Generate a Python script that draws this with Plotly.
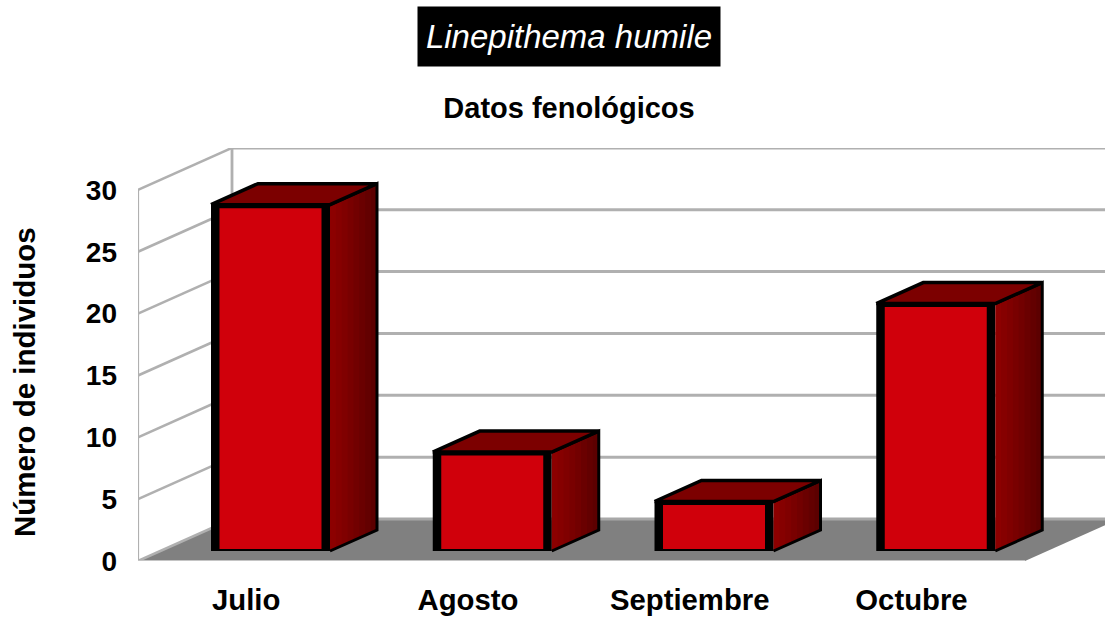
import plotly.graph_objects as go

months = ["Julio", "Agosto", "Septiembre", "Octubre"]
individuals = [28, 8, 4, 20]
y_ticks = [0, 5, 10, 15, 20, 25, 30]

# pseudo-3D geometry in axis units
PX_X, PX_Y = 221.75, 12.37
WALL_DX, WALL_DY = 94 / PX_X, 42 / PX_Y
BAR_DX, BAR_DY = 47 / PX_X, 21 / PX_Y
BAR_W, INNER_W = 119 / PX_X, 102 / PX_X
BAR_BASE = 10 / PX_Y
BAR_SHIFT = 0.0975
LABEL_SHIFT = -0.012
INSET_B, INSET_T = 2 / PX_Y, 3.5 / PX_Y
YMAX, XMAX = 30, 4
X_END = (1105 - 138) / PX_X
Y_END = (561 - 148) / PX_Y
GRID = "#b0b0b0"
SIDE_SHADES = ["#8c0000", "#860000", "#800000", "#790000", "#720000", "#6a0000", "#630000", "#5c0000"]

fig = go.Figure()


def poly(xs, ys, fill=None, line=None, width=0, axes=("x", "y")):
    fig.add_trace(go.Scatter(
        x=xs, y=ys, mode="lines", xaxis=axes[0], yaxis=axes[1],
        fill="toself" if fill else "none", fillcolor=fill,
        line=dict(color=line or "rgba(0,0,0,0)", width=width, shape="linear"),
        hoverinfo="skip", showlegend=False,
    ))


# floor
poly([0, XMAX, XMAX + WALL_DX, WALL_DX, 0], [0, 0, WALL_DY, WALL_DY, 0], fill="#808080")
# back wall grid
for t in y_ticks:
    poly([WALL_DX, X_END], [t + WALL_DY, t + WALL_DY], line=GRID if t else "#a8a8a8", width=3)
# side wall grid
for t in y_ticks:
    poly([0, WALL_DX], [t, t + WALL_DY], line=GRID, width=2.6)
poly([0, 0], [0, YMAX], line=GRID, width=2.2)
poly([WALL_DX, WALL_DX], [WALL_DY, YMAX + WALL_DY], line=GRID, width=2.8)
poly([0, XMAX], [0, 0], line="#c4c4c4", width=2)

# bars (front faces), on overlay axes so they sit over the walls
centers = [i + 0.5 + BAR_SHIFT for i in range(len(months))]
fig.add_trace(go.Bar(x=centers, y=individuals, base=BAR_BASE, width=BAR_W,
                     marker=dict(color="#000000", line_width=0), xaxis="x2", yaxis="y2",
                     hoverinfo="skip", showlegend=False))
fig.add_trace(go.Bar(x=centers, y=[v - (INSET_B + INSET_T) for v in individuals],
                     base=BAR_BASE + INSET_B, width=INNER_W,
                     marker=dict(color="#d0000b", line_width=0), xaxis="x2", yaxis="y2",
                     name="Número de individuos", showlegend=False))

# right faces (painted left to right, each strip running to the back edge) and top faces
n = len(SIDE_SHADES)
for k, shade in enumerate(SIDE_SHADES):
    xs, ys = [], []
    for c, v in zip(centers, individuals):
        x0 = c + BAR_W / 2
        top = BAR_BASE + v
        f0 = k / n
        xs += [x0 + f0 * BAR_DX, x0 + BAR_DX, x0 + BAR_DX, x0 + f0 * BAR_DX, x0 + f0 * BAR_DX, None]
        ys += [BAR_BASE + f0 * BAR_DY, BAR_BASE + BAR_DY, top + BAR_DY, top + f0 * BAR_DY,
               BAR_BASE + f0 * BAR_DY, None]
    poly(xs, ys, fill=shade, axes=("x2", "y2"))

for c, v in zip(centers, individuals):
    xl, xr = c - BAR_W / 2, c + BAR_W / 2
    top = BAR_BASE + v
    poly([xr, xr + BAR_DX, xr + BAR_DX, xr], [BAR_BASE, BAR_BASE + BAR_DY, top + BAR_DY, top],
         line="#000000", width=3, axes=("x2", "y2"))
    poly([xl, xr, xr + BAR_DX, xl + BAR_DX, xl], [top, top, top + BAR_DY, top + BAR_DY, top],
         fill="#7c0000", line="#000000", width=3.5, axes=("x2", "y2"))

FONT = "Liberation Sans"
fig.update_layout(
    width=1105, height=621,
    margin=dict(l=138, r=0, t=148, b=60),
    paper_bgcolor="white", plot_bgcolor="white",
    barmode="overlay", showlegend=False,
    font=dict(family=FONT, color="#000000"),
    title=dict(text="<b>Datos fenológicos</b>", x=569 / 1105, xanchor="center",
               y=1 - 108 / 621, yanchor="middle", font=dict(family=FONT, size=29, color="#000000")),
    xaxis=dict(range=[0, X_END], tickvals=[i + 0.5 + LABEL_SHIFT for i in range(len(months))], ticktext=months,
               tickfont=dict(family=FONT, size=29.3, color="#000000", weight="bold"),
               showgrid=False, zeroline=False, showline=False, ticks="", ticklabelstandoff=19),
    yaxis=dict(range=[0, Y_END], tickvals=y_ticks,
               tickfont=dict(family=FONT, size=28, color="#000000", weight="bold"),
               showgrid=False, zeroline=False, showline=False, ticks="", ticklabelstandoff=20),
    xaxis2=dict(range=[0, X_END], overlaying="x", visible=False),
    yaxis2=dict(range=[0, Y_END], overlaying="y", visible=False),
    annotations=[
        dict(text="<i>Linepithema humile</i>", xref="paper", yref="paper",
             x=(569 - 138) / 967, y=(561 - 36.5) / 413, xanchor="center", yanchor="middle",
             width=302, height=59, bgcolor="#000000", showarrow=False, borderpad=0,
             font=dict(family=FONT, size=33, color="#ffffff")),
        dict(text="<b>Número de individuos</b>", xref="paper", yref="paper",
             x=(24 - 138) / 967, y=(561 - 382) / 413, xanchor="center", yanchor="middle",
             textangle=-90, showarrow=False,
             font=dict(family=FONT, size=29.5, color="#000000")),
    ],
)

fig.write_html("out.html", config={"displayModeBar": False},
               post_script="document.body.style.margin='0';")
